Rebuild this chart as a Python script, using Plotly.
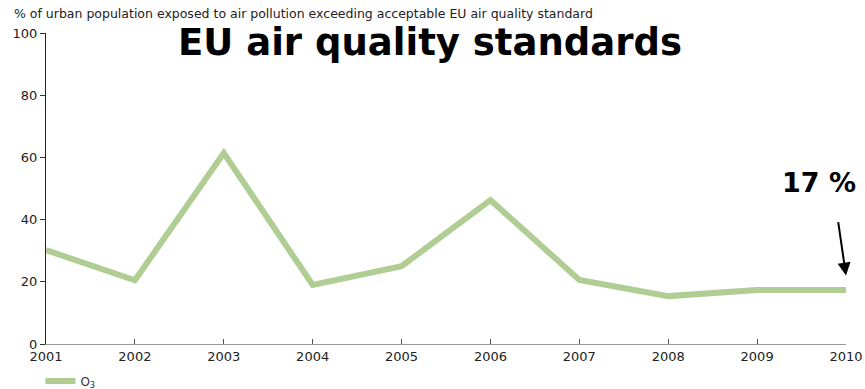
import plotly.graph_objects as go

years = [2001, 2002, 2003, 2004, 2005, 2006, 2007, 2008, 2009, 2010]
o3 = [30.2, 20.5, 61.4, 19.0, 25.0, 46.3, 20.6, 15.4, 17.4, 17.4]
y_ticks = [0, 20, 40, 60, 80, 100]
series_name = "O<sub>3</sub>"
font = "DejaVu Sans, Verdana, sans-serif"

fig = go.Figure()
fig.add_trace(go.Scatter(x=years, y=o3, mode="lines", name=series_name,
                         line=dict(color="#b0cd94", width=6), showlegend=True))

fig.update_layout(
    width=865, height=389,
    margin=dict(l=46, r=19, t=33, b=45, autoexpand=False),
    plot_bgcolor="white", paper_bgcolor="white",
    font=dict(family=font, size=13, color="#222"),
    showlegend=True,
    legend=dict(orientation="h", x=-0.007, xref="paper", xanchor="left",
                y=-0.119, yref="paper", yanchor="middle",
                bgcolor="rgba(0,0,0,0)",
                font=dict(size=12, color="#333"), itemwidth=30),
    xaxis=dict(range=[2001, 2010], tickvals=years, ticks="inside", ticklen=5,
               tickcolor="#555", showline=True, linecolor="#999", linewidth=1,
               showgrid=False, zeroline=False, automargin=False,
               tickfont=dict(size=13, color="#222")),
    yaxis=dict(range=[0, 100], tickvals=y_ticks, ticks="outside", ticklen=5,
               tickcolor="#333", showline=True, linecolor="#222", linewidth=1,
               showgrid=False, zeroline=False, automargin=False,
               tickfont=dict(size=13, color="#222")),
)

fig.add_annotation(xref="paper", yref="paper", x=-0.043, y=1.0, yshift=20,
                   xanchor="left", yanchor="middle", showarrow=False,
                   text="% of urban population exposed to air pollution exceeding acceptable EU air quality standard",
                   font=dict(size=12.5, color="#222"))
fig.add_annotation(xref="paper", yref="paper", x=0.48, y=0.97,
                   xanchor="center", yanchor="middle", showarrow=False,
                   text="<b>EU air quality standards</b>",
                   font=dict(size=37, color="#000"))
fig.add_annotation(xref="paper", yref="y", x=0.966, y=52,
                   xanchor="center", yanchor="middle", showarrow=False,
                   text="<b>17 %</b>", font=dict(size=27, color="#000"))
fig.add_annotation(xref="x", yref="y", x=2010, y=22, ax=-8, ay=-55,
                   showarrow=True, arrowhead=2, arrowsize=1.3, arrowwidth=2,
                   arrowcolor="#000", text="")

fig.write_html("out.html")
